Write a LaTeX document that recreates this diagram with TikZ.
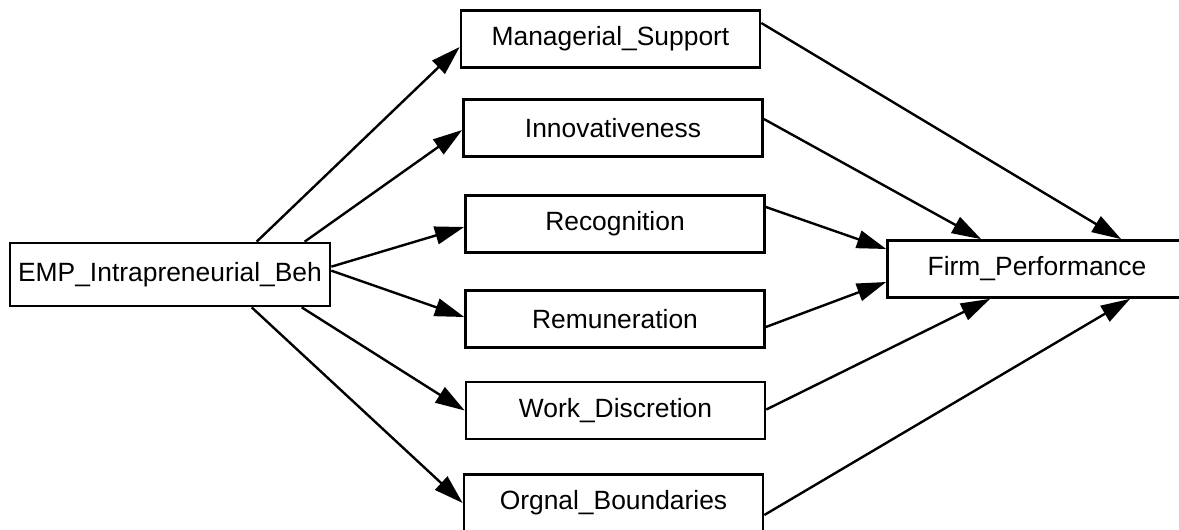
\documentclass[tikz,border=0pt]{standalone}
\usepackage{fontspec}
\setmainfont{Liberation Sans}
\usetikzlibrary{arrows.meta,calc}
\tikzset{
  box/.style={draw=black, line width=2pt, fill=white, inner sep=0pt,
    minimum width=224.25pt, minimum height=42.75pt,
    font=\fontsize{19.8pt}{24pt}\selectfont},
  bigbox/.style={box, minimum width=240pt, minimum height=47.25pt},
  edge/.style={line width=1.8pt, -{Triangle[length=22pt,width=13.5pt]}}
}
\begin{document}
\begin{tikzpicture}[x=0.75pt,y=-0.75pt]
\useasboundingbox (0,0) rectangle (1179,529);
\node[bigbox] (emp) at (170,274.5) {\raisebox{-1.5pt}{EMP\_Intrapreneurial\_Beh}};
\node[box] (ms)  at (610.5,39)   {\raisebox{-1.5pt}{Managerial\_Support}};
\node[box] (inn) at (613,128)    {\raisebox{-1.5pt}{Innovativeness}};
\node[box] (rec) at (615,224)    {\raisebox{-1.5pt}{Recognition}};
\node[box] (rem) at (615,319)    {\raisebox{-1.5pt}{Remuneration}};
\node[box] (wd)  at (615.5,410.5){\raisebox{-1.5pt}{Work\_Discretion}};
\node[box] (ob)  at (613.5,503)  {\raisebox{-1.5pt}{Orgnal\_Boundaries}};
\node[box] (fp)  at (1037,269)   {\raisebox{-1.5pt}{Firm\_Performance}};
% left fan
\draw[edge] ($(emp.north west)+(248,0)$) -- ($(ms.west)+(0,8)$);
\draw[edge] ($(emp.north west)+(296,0)$) -- ($(inn.west)+(0,2)$);
\draw[edge] ($(emp.north east)+(0,25)$) -- ($(rec.west)+(0,3)$);
\draw[edge] ($(emp.north east)+(0,29)$) -- ($(rem.west)+(0,-2)$);
\draw[edge] ($(emp.south west)+(293,0)$) -- ($(wd.west)+(0,0)$);
\draw[edge] ($(emp.south west)+(243,0)$) -- ($(ob.west)+(0,0)$);
% right fan
\draw[edge] ($(ms.east)+(0,-16)$) -- ($(fp.north west)+(235,0)$);
\draw[edge] ($(inn.east)+(0,-9)$) -- ($(fp.north west)+(95,0)$);
\draw[edge] ($(rec.east)+(0,-17)$) -- ($(fp.west)+(0,-20)$);
\draw[edge] ($(rem.east)+(0,8)$) -- ($(fp.west)+(0,13)$);
\draw[edge] ($(wd.east)+(0,-1)$) -- ($(fp.south west)+(104,0)$);
\draw[edge] ($(ob.east)+(0,12)$) -- ($(fp.south west)+(244,0)$);
\end{tikzpicture}
\end{document}
